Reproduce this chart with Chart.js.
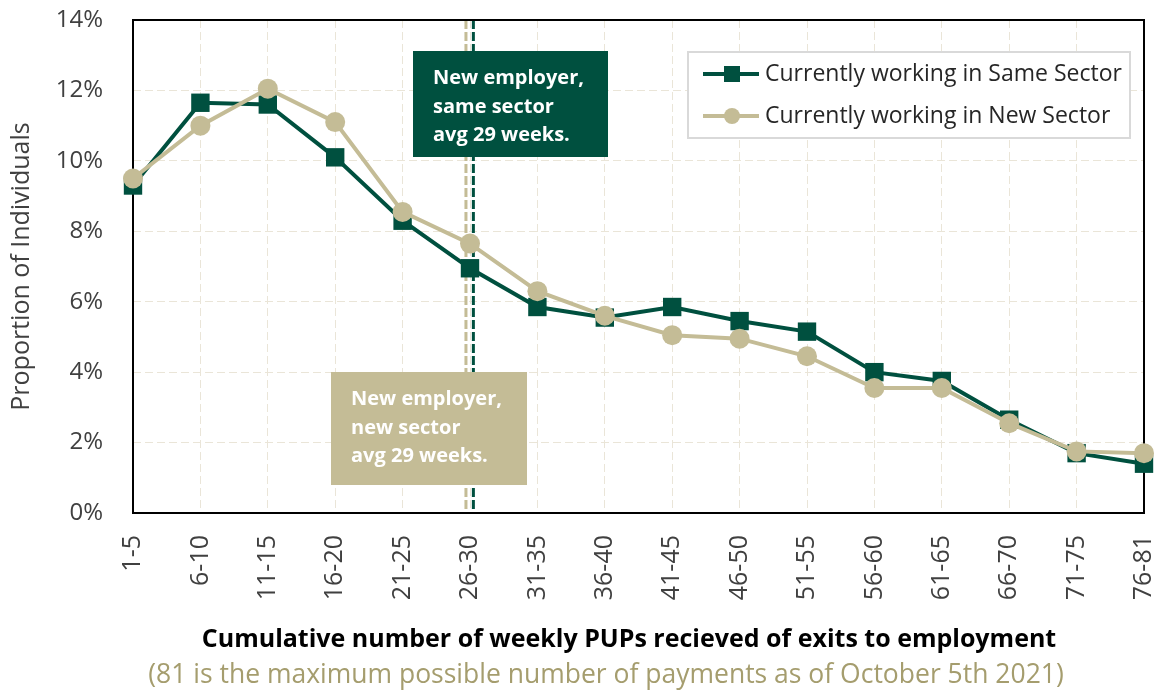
<!DOCTYPE html>
<html>
<head>
<meta charset="utf-8">
<script src="https://cdn.jsdelivr.net/npm/chart.js@4/dist/chart.umd.min.js"></script>
<style>
    html, body { margin: 0; padding: 0; background: #fff; }
    #wrap { width: 1157px; height: 692px; }
</style>
</head>
<body>
<div id="wrap"><canvas id="chart1"></canvas></div>
<script>
// PUP payment bins and share of exits to employment (%)
const categories = ['1-5', '6-10', '11-15', '16-20', '21-25', '26-30', '31-35', '36-40',
    '41-45', '46-50', '51-55', '56-60', '61-65', '66-70', '71-75', '76-81'];
const sameSector = [9.3, 11.65, 11.6, 10.1, 8.3, 6.95, 5.85, 5.55, 5.85, 5.45, 5.15, 4.0, 3.75, 2.65, 1.7, 1.4];
const newSector = [9.5, 11.0, 12.05, 11.1, 8.55, 7.65, 6.3, 5.6, 5.05, 4.95, 4.45, 3.55, 3.55, 2.55, 1.75, 1.7];
const yTicks = [0, 2, 4, 6, 8, 10, 12, 14];

const GREEN = '#00503F';
const TAN = '#C4BC96';
const GRID = '#EAE5D8';
const FONT = '"Open Sans", "Noto Sans", sans-serif';

const xTitle = 'Cumulative number of weekly PUPs recieved of exits to employment';
const footNote = '(81 is the maximum possible number of payments as of October 5th 2021)';

// average duration markers, in category index units
const avgMarkers = [
    { pos: 4.94, color: TAN },
    { pos: 5.05, color: GREEN }
];

const notes = [
    { x: 413, y: 51, w: 195, h: 106, fill: GREEN, lines: ['New employer,', 'same sector', 'avg 29 weeks.'] },
    { x: 331, y: 372, w: 196, h: 113, fill: TAN, lines: ['New employer,', 'new sector', 'avg 29 weeks.'] }
];

const extras = {
    id: 'extras',
    beforeDatasetsDraw(chart) {
        const { ctx, chartArea: a, scales: { x } } = chart;
        ctx.save();
        avgMarkers.forEach(m => {
            const px = x.getPixelForValue(m.pos);
            ctx.strokeStyle = m.color;
            ctx.lineWidth = 3;
            ctx.setLineDash([9, 3]);
            ctx.beginPath();
            ctx.moveTo(px, a.top);
            ctx.lineTo(px, a.bottom);
            ctx.stroke();
        });
        ctx.setLineDash([]);

        notes.forEach(n => {
            ctx.fillStyle = n.fill;
            ctx.fillRect(n.x, n.y, n.w, n.h);
            ctx.fillStyle = '#fff';
            ctx.font = 'bold 20px ' + FONT;
            ctx.textBaseline = 'alphabetic';
            ctx.textAlign = 'left';
            n.lines.forEach((t, i) => ctx.fillText(t, n.x + 20, n.y + 33 + i * 28.5));
        });

        ctx.strokeStyle = '#000';
        ctx.lineWidth = 2;
        ctx.strokeRect(a.left, a.top, a.width, a.height);
        ctx.restore();
    },
    afterDatasetsDraw(chart) {
        const { ctx } = chart;
        ctx.save();
        // legend box
        ctx.fillStyle = '#fff';
        ctx.fillRect(688, 52, 442, 86);
        ctx.strokeStyle = '#D9D9D9';
        ctx.lineWidth = 2;
        ctx.strokeRect(688, 52, 442, 86);
        chart.data.datasets.forEach((ds, i) => {
            const y = 74 + i * 42;
            ctx.strokeStyle = ds.borderColor;
            ctx.lineWidth = 4;
            ctx.beginPath();
            ctx.moveTo(703, y);
            ctx.lineTo(759, y);
            ctx.stroke();
            ctx.fillStyle = ds.borderColor;
            if (ds.pointStyle === 'rect') {
                ctx.fillRect(724, y - 8, 16, 16);
            } else {
                ctx.beginPath();
                ctx.arc(732, y, 8, 0, Math.PI * 2);
                ctx.fill();
            }
            ctx.fillStyle = '#262626';
            ctx.font = '23px ' + FONT;
            ctx.textBaseline = 'middle';
            ctx.fillText(ds.label, 765, y);
        });
        ctx.restore();
    },
    afterDraw(chart) {
        const { ctx } = chart;
        ctx.save();
        ctx.textAlign = 'center';
        ctx.textBaseline = 'middle';
        ctx.fillStyle = '#000';
        ctx.font = 'bold 25px ' + FONT;
        ctx.fillText(xTitle, 629, 640);
        ctx.fillStyle = '#A59D6E';
        ctx.font = '26.5px ' + FONT;
        ctx.fillText(footNote, 606, 675);
        ctx.restore();
    }
};

const ctx = document.getElementById('chart1').getContext('2d');

const myChart = new Chart(ctx, {
    type: 'line',
    data: {
        labels: categories,
        datasets: [{
            label: 'Currently working in Same Sector',
            data: sameSector,
            borderColor: GREEN,
            backgroundColor: GREEN,
            borderWidth: 4,
            pointStyle: 'rect',
            pointRadius: 13,
            pointBorderWidth: 0,
            clip: false,
            order: 2
        }, {
            label: 'Currently working in New Sector',
            data: newSector,
            borderColor: TAN,
            backgroundColor: TAN,
            borderWidth: 4,
            pointStyle: 'circle',
            pointRadius: 10,
            pointBorderWidth: 0,
            clip: false,
            order: 1
        }]
    },
    options: {
        responsive: true,
        maintainAspectRatio: false,
        animation: false,
        events: [],
        layout: {
            padding: { left: 0, right: 10, top: 20, bottom: 0 }
        },
        plugins: {
            legend: { display: false },
            tooltip: { enabled: false }
        },
        scales: {
            x: {
                offset: false,
                afterFit: function (scale) {
                    // room below the plot for the axis title and footnote
                    scale.height = 179;
                    scale.paddingLeft = 0;
                    scale.paddingRight = 0;
                },
                grid: { color: GRID, lineWidth: 1, drawTicks: false },
                border: { display: false, dash: [8, 4] },
                ticks: {
                    autoSkip: false,
                    minRotation: 90,
                    maxRotation: 90,
                    padding: 22,
                    color: '#404040',
                    font: { family: FONT, size: 25 }
                }
            },
            y: {
                min: 0,
                max: 14,
                afterFit: function (scale) {
                    scale.width = 133;
                    scale.paddingTop = 0;
                    scale.paddingBottom = 0;
                },
                afterBuildTicks: function (scale) { scale.ticks = yTicks.map(v => ({ value: v })); },
                grid: { color: GRID, lineWidth: 1, drawTicks: false },
                border: { display: false, dash: [8, 4] },
                ticks: {
                    padding: 30,
                    color: '#404040',
                    font: { family: FONT, size: 24 },
                    callback: function (value) { return value + '%'; }
                },
                title: {
                    display: true,
                    text: 'Proportion of Individuals',
                    color: '#404040',
                    font: { family: FONT, size: 25 },
                    padding: { top: 7, bottom: 0 }
                }
            }
        }
    },
    plugins: [extras]
});
</script>
</body>
</html>
